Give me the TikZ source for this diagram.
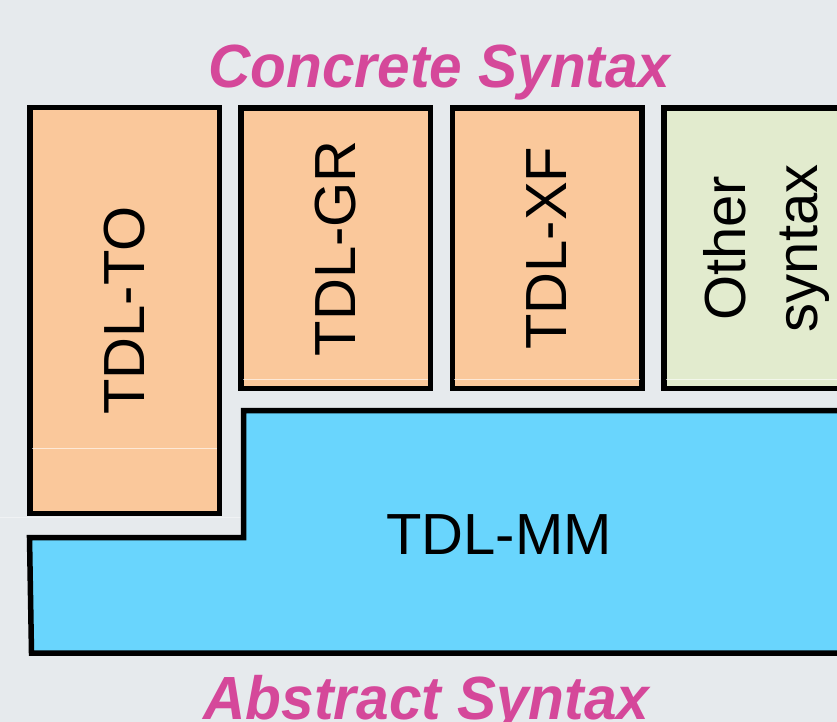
\documentclass[tikz,border=0pt]{standalone}
\usepackage{fontspec}
\setmainfont{Liberation Sans}
\newfontfamily\headfont[FakeStretch=0.96]{Liberation Sans}

\definecolor{bgGrey}{RGB}{230,234,237}
\definecolor{csOrange}{RGB}{250,200,155}
\definecolor{csGreen}{RGB}{226,235,206}
\definecolor{asBlue}{RGB}{105,213,253}
\definecolor{titlePink}{RGB}{213,72,154}

\begin{document}
\begin{tikzpicture}[x=1pt,y=-1pt,
  syntaxbox/.style={draw=black,line width=5.5pt,inner sep=0pt,rotate=90,
    align=center,font=\fontsize{58}{72}\selectfont},
  title/.style={text=titlePink,inner sep=0pt,anchor=base,
    font=\headfont\fontsize{61}{61}\selectfont\bfseries\itshape},
  seam/.style={white,line width=1pt,opacity=0.6}]
\useasboundingbox (0,0) rectangle (837,722);
\fill[bgGrey] (0,0) rectangle (837,722);
\clip (0,0) rectangle (837,722);

\node[title] (concrete) at (439.5,88) {Concrete Syntax};

% concrete syntaxes
\node[syntaxbox,fill=csOrange,minimum width=405.5pt,minimum height=189.5pt]
  (to) at (124.5,310.5) {TDL-TO};
\node[syntaxbox,fill=csOrange,minimum width=280.5pt,minimum height=189.5pt]
  (gr) at (335.5,248.3) {TDL-GR};
\node[syntaxbox,fill=csOrange,minimum width=280.5pt,minimum height=189.5pt]
  (xf) at (547,248.3) {TDL-XF};
\node[syntaxbox,fill=csGreen,minimum width=280.5pt,minimum height=204.5pt]
  (other) at (766,248.3) {Other\\syntax};
\draw[seam] (32,448) -- (217,448);
\draw[seam] (243,379.5) -- (428,379.5);
\draw[seam] (454,379.5) -- (640,379.5);
\draw[seam] (666,379.5) -- (837,379.5);
\draw[seam,opacity=0.4] (0,517) -- (241,517);

% abstract syntax
\draw[line width=5.5pt,fill=asBlue] (243.5,410.5) -- (900,410.5) -- (900,653)
  -- (31.5,653) -- (29.5,537.5) -- (243.5,537.5) -- cycle;
\node[font=\fontsize{58}{72}\selectfont] (mm) at (499,535) {TDL-MM};

\node[title] (abstract) at (426.5,719) {Abstract Syntax};
\end{tikzpicture}
\end{document}
